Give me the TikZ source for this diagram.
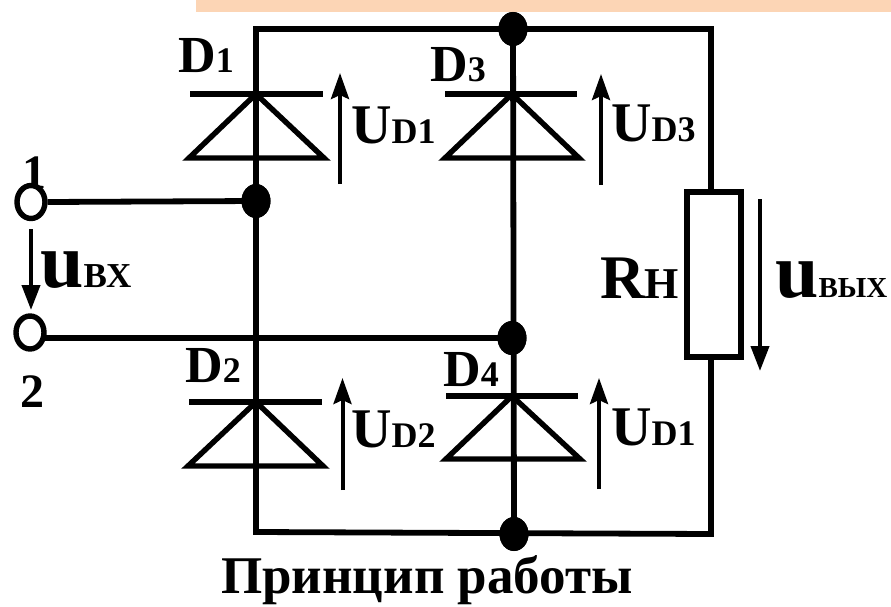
\documentclass[tikz,border=0pt]{standalone}
\usepackage{fontspec}
\setmainfont{Liberation Serif}
\usetikzlibrary{arrows.meta,shapes.geometric}
\newcommand\fz[1]{\fontsize{#1}{#1}\selectfont}
\tikzset{
  wire/.style={line width=5.8pt,line cap=rect},
  dot/.style={ellipse,fill=black,inner sep=0pt,minimum width=29pt,minimum height=34pt},
  term/.style={ellipse,draw,line width=5.4pt,fill=white,inner sep=0pt,minimum width=28pt,minimum height=33pt},
  res/.style={rectangle,draw,line width=5.6pt,fill=white,inner sep=0pt,minimum width=54pt,minimum height=165pt},
  volt/.style={line width=4pt,-{Stealth[length=26pt,width=18pt,inset=4pt]}},
  voltd/.style={line width=4pt,-{Triangle[length=25pt,width=18pt]}},
  lab/.style={anchor=base west,inner sep=0pt,font=\bfseries},
  dbar/.style={line width=5.4pt},
  dtri/.style={line width=5.4pt,line join=miter,miter limit=10},
}
\begin{document}
\begin{tikzpicture}[x=1pt,y=-1pt]
\useasboundingbox (0,0) rectangle (891,607);
\fill[white] (0,0) rectangle (891,607);
\fill[fill={rgb,255:red,252;green,213;blue,181}] (196,0) rectangle (891,12);
\coordinate (tl) at (256,29);
\coordinate (tr) at (711,29);
\coordinate (bl) at (256,532);
\coordinate (br) at (711,532);
\coordinate (w2) at (30,338);
\node[lab] (n1) at (22,188) {\fz{48}1};
\node[dot] (jt) at (513,29) {};
\node[dot] (jl) at (256,201) {};
\node[dot] (jm) at (512,338) {};
\node[dot] (jb) at (514,534) {};
\node[res] (R) at (714,274.5) {};
\draw[wire] (tl) -- (jt.center) -- (tr) -- (tr |- R.north);
\draw[wire] (br |- R.south) -- (br) -- (jb.center -| br) -- (bl) -- (tl);
\draw[wire] (jt.center) -- (jb.center);
\draw[wire] (w2) -- (jm.center);
\node[term] (t1) at (31,202) {};
\node[term] (t2) at (30,332.5) {};
\draw[wire,line cap=butt] (t1.east) -- (jl.center);
\node[dot] at (jl) {};
\node[dot] at (jm) {};
\node[dot] at (jt) {};
\node[dot] at (jb) {};
\coordinate (a1) at (256,94);
\coordinate (a2) at (256,402);
\coordinate (a3) at (512,94);
\coordinate (a4) at (512,396);
\draw[dtri] (a1) -- (189,158) -- (324,158) -- cycle;
\draw[dtri] (a2) -- (188,466) -- (323,466) -- cycle;
\draw[dtri] (a3) -- (445,158) -- (579,158) -- cycle;
\draw[dtri] (a4) -- (446,459) -- (580,459) -- cycle;
\draw[dbar] (190,94) -- (a1) -- (323,94);
\draw[dbar] (189,402) -- (a2) -- (322,402);
\draw[dbar] (445,94) -- (a3) -- (577,94);
\draw[dbar] (446,396) -- (a4) -- (578,396);
\coordinate (v1a) at (340,184); \coordinate (v1b) at (340,73);
\coordinate (v2a) at (342.5,490); \coordinate (v2b) at (342.5,378);
\coordinate (v3a) at (601,185); \coordinate (v3b) at (601,74);
\coordinate (v4a) at (599,489); \coordinate (v4b) at (599,378);
\coordinate (vxa) at (31,229); \coordinate (vxb) at (31,310);
\coordinate (vya) at (760,199); \coordinate (vyb) at (760,371);
\draw[volt] (v1a) -- (v1b);
\draw[volt] (v2a) -- (v2b);
\draw[volt] (v3a) -- (v3b);
\draw[volt] (v4a) -- (v4b);
\draw[voltd] (vxa) -- (vxb);
\draw[voltd] (vya) -- (vyb);
\node[lab] (d1) at (178,73) {\fz{52}D\fz{36}1};
\node[lab] (d2) at (185,382) {\fz{52}D\fz{36}2};
\node[lab] (d3) at (430,82) {\fz{52}D\fz{36}3};
\node[lab] (d4) at (443,386) {\fz{52}D\fz{36}4};
\node[lab] (n2) at (20,407) {\fz{48}2};
\node[lab] (u1) at (351,143) {\fz{56}U\fz{36}D1};
\node[lab] (u2) at (351,447) {\fz{56}U\fz{36}D2};
\node[lab] (u3) at (611,142) {\fz{56}U\fz{36}D3};
\node[lab] (u4) at (611,445) {\fz{56}U\fz{36}D1};
\node[lab] (ux) at (40,287) {\fz{78}u\fz{35}ВХ};
\node[lab] (uy) at (775,297) {\fz{78}u\fz{29}ВЫХ};
\node[lab] (rh) at (600,298) {\fz{62}R\fz{44}Н};
\node[lab] (title) at (221,593) {\fz{53}Принцип работы};
\end{tikzpicture}
\end{document}
